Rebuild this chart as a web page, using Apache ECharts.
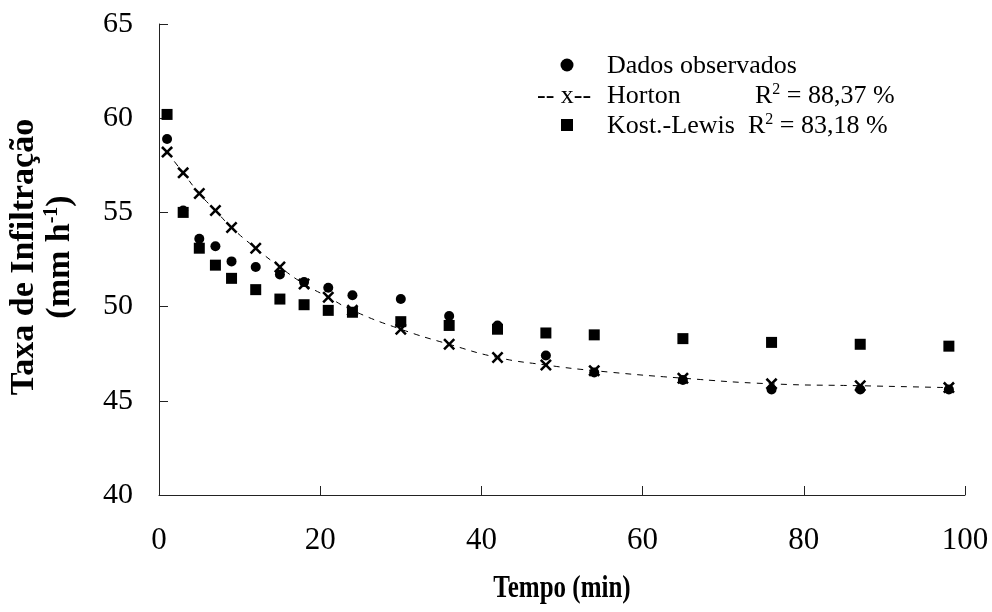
<!DOCTYPE html>
<html>
<head>
<meta charset="utf-8">
<script src="https://cdn.jsdelivr.net/npm/echarts@6/dist/echarts.min.js"></script>
<style>html,body{margin:0;padding:0;background:#fff;}#c{width:992px;height:612px;}</style>
</head>
<body>
<div id="c"></div>
<script>
const tempo = [1, 3, 5, 7, 9, 12, 15, 18, 21, 24, 30, 36, 42, 48, 54, 65, 76, 87, 98];
const observados = [58.9, 55.1, 53.6, 53.2, 52.4, 52.1, 51.7, 51.3, 51.0, 50.6, 50.4, 49.5, 49.0, 47.4, 46.5, 46.1, 45.6, 45.6, 45.6];
const horton = [58.2, 57.1, 56.0, 55.1, 54.2, 53.1, 52.1, 51.2, 50.5, 49.8, 48.8, 48.0, 47.3, 46.9, 46.6, 46.2, 45.9, 45.8, 45.7];
const kostLewis = [60.2, 55.0, 53.1, 52.2, 51.5, 50.9, 50.4, 50.1, 49.8, 49.7, 49.2, 49.0, 48.8, 48.6, 48.5, 48.3, 48.1, 48.0, 47.9];
const xTicks = [0, 20, 40, 60, 80, 100];
const yTicks = [40, 45, 50, 55, 60, 65];

const pair = (xs, ys) => xs.map((x, i) => [x, ys[i]]);
const crossPath = 'path://M0,1.5L1.5,0L5,3.5L8.5,0L10,1.5L6.5,5L10,8.5L8.5,10L5,6.5L1.5,10L0,8.5L3.5,5Z';
const serif = '"Liberation Serif", "DejaVu Serif", serif';
const supStyle = {fontFamily: serif, fontSize: 16, verticalAlign: 'top', padding: [0, 0, 12, 0]};

const chart = echarts.init(document.getElementById('c'), null, {renderer: 'canvas'});
chart.setOption({
  backgroundColor: '#fff',
  animation: false,
  grid: {left: 159, right: 27, top: 24, bottom: 117},
  xAxis: {
    type: 'value', min: xTicks[0], max: xTicks[xTicks.length - 1], interval: 20,
    axisLine: {lineStyle: {color: '#222', width: 1}},
    axisTick: {inside: true, length: 9, lineStyle: {color: '#222'}},
    axisLabel: {color: '#000', fontFamily: serif, fontSize: 31, margin: 30},
    splitLine: {show: false}
  },
  yAxis: {
    type: 'value', min: yTicks[0], max: yTicks[yTicks.length - 1], interval: 5,
    axisLine: {show: true, lineStyle: {color: '#222', width: 1}},
    axisTick: {show: true, inside: true, length: 9, lineStyle: {color: '#222'}},
    axisLabel: {color: '#000', fontFamily: serif, fontSize: 30, margin: 26},
    splitLine: {show: false}
  },
  series: [
    {
      type: 'scatter', name: 'Kost.-Lewis', data: pair(tempo, kostLewis),
      symbol: 'rect', symbolSize: 11, itemStyle: {color: '#000', opacity: 1}, z: 2
    },
    {
      type: 'line', name: 'Horton', data: pair(tempo, horton), smooth: true,
      symbol: crossPath, symbolSize: 12, showSymbol: true,
      lineStyle: {color: '#000', width: 1, type: [6, 6]},
      itemStyle: {color: '#000', opacity: 1}, z: 3
    },
    {
      type: 'scatter', name: 'Dados observados', data: pair(tempo, observados),
      symbol: 'circle', symbolSize: 10, itemStyle: {color: '#000', opacity: 1}, z: 4
    }
  ],
  graphic: [
    {
      type: 'text', x: 562, y: 589, scaleY: 1.3,
      style: {text: 'Tempo (min)', fontFamily: serif, fontSize: 25, fontWeight: 'bold', fill: '#000', align: 'center', verticalAlign: 'middle'}
    },
    {
      type: 'text', x: 42, y: 257, rotation: Math.PI / 2,
      style: {
        text: 'Taxa de Infiltração\n(mm h{sup|-1})',
        fontFamily: serif, fontSize: 34, fontWeight: 'bold', fill: '#000',
        align: 'center', verticalAlign: 'middle', lineHeight: 36,
        rich: {sup: {fontFamily: serif, fontSize: 20, fontWeight: 'bold', verticalAlign: 'top', lineHeight: 36, padding: [0, 0, 14, 0]}}
      }
    },
    {type: 'circle', shape: {cx: 567, cy: 65, r: 6.5}, style: {fill: '#000'}},
    {type: 'rect', shape: {x: 561, y: 119, width: 12, height: 12}, style: {fill: '#000'}},
    {type: 'text', x: 607, y: 66, style: {text: 'Dados observados', fontFamily: serif, fontSize: 26, fill: '#000', verticalAlign: 'middle'}},
    {type: 'text', x: 537, y: 96, style: {text: '-- x--', fontFamily: serif, fontSize: 26, fill: '#000', verticalAlign: 'middle'}},
    {type: 'text', x: 607, y: 96, style: {text: 'Horton', fontFamily: serif, fontSize: 26, fill: '#000', verticalAlign: 'middle'}},
    {type: 'text', x: 755, y: 96, style: {text: 'R{sup|2} = 88,37 %', fontFamily: serif, fontSize: 26, fill: '#000', verticalAlign: 'middle', rich: {sup: supStyle}}},
    {type: 'text', x: 607, y: 126, style: {text: 'Kost.-Lewis', fontFamily: serif, fontSize: 26, fill: '#000', verticalAlign: 'middle'}},
    {type: 'text', x: 748, y: 126, style: {text: 'R{sup|2} = 83,18 %', fontFamily: serif, fontSize: 26, fill: '#000', verticalAlign: 'middle', rich: {sup: supStyle}}}
  ]
});
</script>
</body>
</html>
